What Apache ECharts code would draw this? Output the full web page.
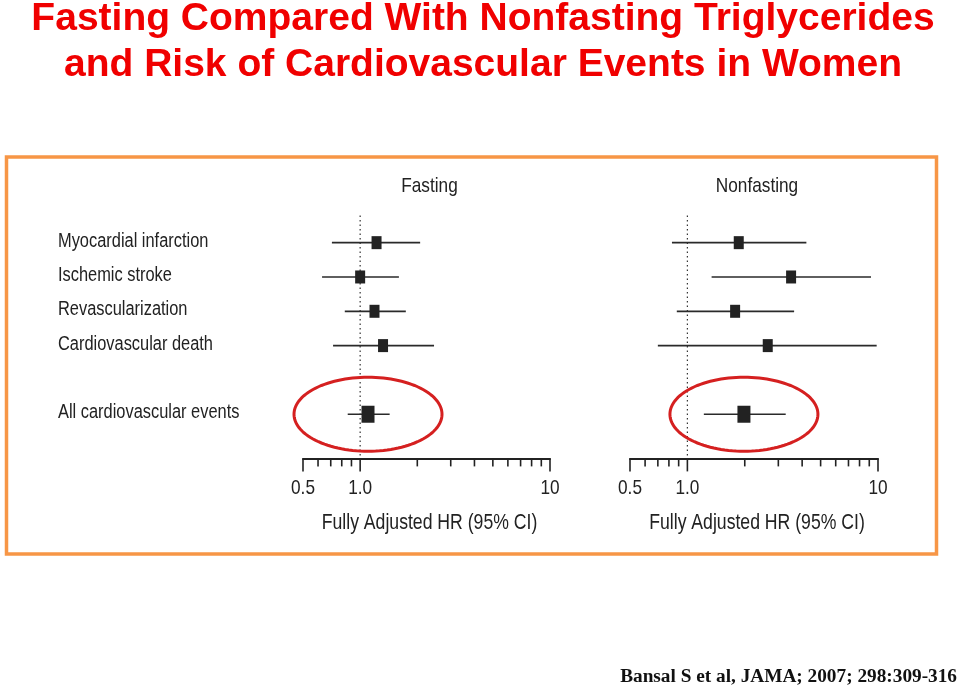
<!DOCTYPE html>
<html><head><meta charset="utf-8">
<script src="https://cdn.jsdelivr.net/npm/echarts/dist/echarts.min.js"></script>
<style>html,body{margin:0;padding:0;background:#fff}#c{width:960px;height:689px}</style>
</head><body><div id="c"></div><script>
// ---- data ----
const outcomes = ['Myocardial infarction','Ischemic stroke','Revascularization','Cardiovascular death','','All cardiovascular events'];
const fastingHR   = [1.22, 1.00, 1.19, 1.32, null, 1.10];
const fastingLow  = [0.71, 0.63, 0.83, 0.72, null, 0.86];
const fastingHigh = [2.07, 1.60, 1.74, 2.45, null, 1.43];
const nonfastingHR   = [1.86, 3.50, 1.78, 2.64, null, 1.98];
const nonfastingLow  = [0.83, 1.34, 0.88, 0.70, null, 1.22];
const nonfastingHigh = [4.21, 9.19, 3.63, 9.84, null, 3.28];
const panelTitles = ['Fasting', 'Nonfasting'];
const tickValues = [0.5,0.6,0.7,0.8,0.9,1,2,3,4,5,6,7,8,9,10];
const tickLabels = {0.5:'0.5', 1:'1.0', 10:'10'};
const refValue = 1;
const axisTitle = 'Fully Adjusted HR (95% CI)';
const titleLines = ['Fasting Compared With Nonfasting Triglycerides', 'and Risk of Cardiovascular Events in Women'];
const citation = 'Bansal S et al, JAMA; 2007; 298:309-316';

// ---- styling ----
const SANS = "'Liberation Sans',Arial,Helvetica,sans-serif";
const NARROW_SCALE = 0.82;
const INK = '#222';
const AXIS_OFFSET = 27;

function narrowText(text, x, y, size, align) {
  return {type: 'text', x: x, y: y, scaleX: NARROW_SCALE,
    style: {text: text, x: 0, y: 0, textAlign: align, textVerticalAlign: 'middle', fill: INK, font: size + 'px ' + SANS}};
}

function forestData(hr, lo, hi) {
  const out = [];
  hr.forEach((v, i) => { if (v != null) out.push([v, i, lo[i], hi[i]]); });
  return out;
}

function renderForest(params, api) {
  const hr = api.value(0), idx = api.value(1), lo = api.value(2), hi = api.value(3);
  const c = api.coord([hr, idx]);
  const pl = api.coord([lo, idx]), ph = api.coord([hi, idx]);
  const total = idx === outcomes.length - 1;
  const w = total ? 13 : 10, h = total ? 17 : 13;
  const children = [];
  if (total) {
    const pts = [];
    for (let k = 0; k < 120; k++) {
      const a = k / 120 * Math.PI * 2;
      pts.push([c[0] + 74 * Math.cos(a), c[1] + 37 * Math.sin(a)]);
    }
    children.push({type: 'polygon', shape: {points: pts}, style: {fill: 'none', stroke: '#d52020', lineWidth: 3}});
  }
  children.push({type: 'line', shape: {x1: pl[0], y1: c[1], x2: ph[0], y2: c[1]}, style: {stroke: '#2a2a2a', lineWidth: 1.7}});
  children.push({type: 'rect', shape: {x: c[0] - w / 2, y: c[1] - h / 2, width: w, height: h}, style: {fill: INK}});
  return {type: 'group', children};
}

function renderTicks(params, api) {
  const v = api.value(0);
  const x = api.coord([v, 0])[0];
  const y0 = params.coordSys.y + params.coordSys.height + AXIS_OFFSET;
  const major = tickLabels[v] !== undefined;
  const children = [{type: 'line', shape: {x1: x, y1: y0, x2: x, y2: y0 + (major ? 13 : 8)}, style: {stroke: INK, lineWidth: 1.6}}];
  if (major) children.push(narrowText(tickLabels[v], x, y0 + 30, 21, 'center'));
  return {type: 'group', children};
}

function renderRef(params, api) {
  const x = api.coord([api.value(0), 0])[0];
  const cs = params.coordSys;
  const bottom = cs.y + cs.height + AXIS_OFFSET;
  const mid = cs.x + cs.width / 2 + 3;
  return {type: 'group', children: [
    {type: 'line', shape: {x1: x, y1: cs.y - 10, x2: x, y2: bottom}, style: {stroke: '#333', lineWidth: 1.2, lineDash: [1.5, 3]}},
    narrowText(axisTitle, mid, bottom + 65, 21.5, 'center'),
    narrowText(panelTitles[params.seriesIndex < 3 ? 0 : 1], mid, cs.y - 39, 21, 'center')
  ]};
}

function renderRowLabels(params, api) {
  const idx = api.value(0);
  const y = api.coord([1, idx])[1];
  return narrowText(outcomes[idx], params.coordSys.x - 245, y - 1.5, 20, 'left');
}

const grids = [
  {left: 303, width: 247, top: 225.5, height: 205.9, outerBoundsMode: 'none'},
  {left: 630, width: 248, top: 225.5, height: 205.9, outerBoundsMode: 'none'}
];

const xAxes = [0, 1].map(g => ({
  gridIndex: g, type: 'log', logBase: 10, min: 0.5, max: 10, offset: AXIS_OFFSET,
  axisLine: {show: true, lineStyle: {color: INK, width: 2}},
  axisTick: {show: false}, axisLabel: {show: false}, splitLine: {show: false}, minorTick: {show: false}
}));

const yAxes = [0, 1].map(g => ({
  gridIndex: g, type: 'category', data: outcomes, inverse: true,
  axisLine: {show: false}, axisTick: {show: false}, splitLine: {show: false}, axisLabel: {show: false}
}));

const panels = [
  forestData(fastingHR, fastingLow, fastingHigh),
  forestData(nonfastingHR, nonfastingLow, nonfastingHigh)
];

const series = [];
[0, 1].forEach(g => {
  series.push({type: 'custom', xAxisIndex: g, yAxisIndex: g, clip: false, silent: true, renderItem: renderRef, data: [[refValue, 0]], z: 1});
  series.push({type: 'custom', xAxisIndex: g, yAxisIndex: g, clip: false, silent: true, renderItem: renderTicks, data: tickValues.map(v => [v, 0]), z: 2});
  series.push({type: 'custom', xAxisIndex: g, yAxisIndex: g, clip: false, silent: true, renderItem: renderForest, data: panels[g], z: 3});
});
series.push({type: 'custom', xAxisIndex: 0, yAxisIndex: 0, clip: false, silent: true, renderItem: renderRowLabels,
  data: outcomes.map((o, i) => [i]).filter(d => outcomes[d[0]] !== ''), encode: {y: 0}, z: 4});

const graphic = [
  {type: 'rect', shape: {x: 6.5, y: 157, width: 930, height: 397}, style: {fill: 'none', stroke: '#f79646', lineWidth: 3.5}, z: 0},
  {type: 'text', x: 483, y: 19, style: {text: titleLines[0], textAlign: 'center', textVerticalAlign: 'middle', fill: '#f00000', font: 'bold 39px ' + SANS}},
  {type: 'text', x: 483, y: 65, style: {text: titleLines[1], textAlign: 'center', textVerticalAlign: 'middle', fill: '#f00000', font: 'bold 39px ' + SANS}},
  {type: 'text', x: 957, y: 677, style: {text: citation, textAlign: 'right', textVerticalAlign: 'middle', fill: '#111', font: "bold 19.3px 'Liberation Serif','Times New Roman',serif"}}
];

const chart = echarts.init(document.getElementById('c'), null, {renderer: 'canvas'});
chart.setOption({
  animation: false,
  backgroundColor: '#fff',
  grid: grids, xAxis: xAxes, yAxis: yAxes, series, graphic
});
</script></body></html>
